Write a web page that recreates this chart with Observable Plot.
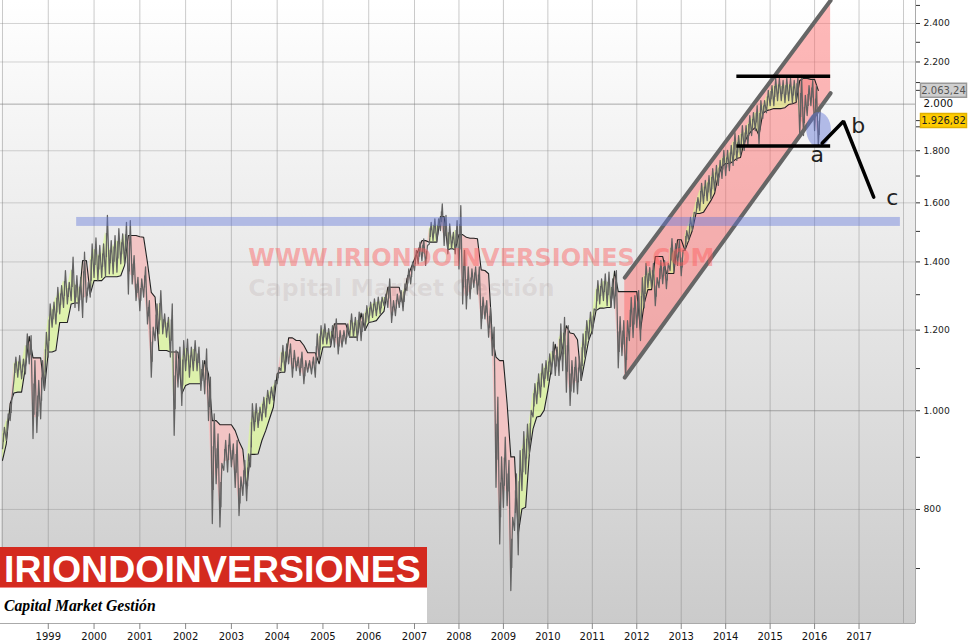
<!DOCTYPE html>
<html>
<head>
<meta charset="utf-8">
<script src="https://cdn.jsdelivr.net/npm/d3@7"></script>
<script src="https://cdn.jsdelivr.net/npm/@observablehq/plot@0.6"></script>
<style>
html,body{margin:0;padding:0;background:#fff;}
#wrap{position:relative;width:971px;height:642px;overflow:hidden;}
#wrap svg{display:block;}
#brand{position:absolute;left:0;top:547px;width:427px;height:41px;background:#d42a1f;border-bottom:1px solid #e88;box-sizing:border-box;color:#fff;font:bold 37.5px "Liberation Sans",sans-serif;line-height:45px;white-space:nowrap;padding-left:4px;}
#sub{position:absolute;left:0;top:588px;width:427px;height:35px;background:#fff;color:#000;font:italic bold 15.7px "Liberation Serif",serif;line-height:36px;white-space:nowrap;padding-left:4px;box-sizing:border-box;}
</style>
</head>
<body>
<div id="wrap"></div>
<script>
// Monthly readings from January 1998 on
const highs = [
963,993,1031,1129,1133,1124,1190,1185,1120,1071,
1120,1194,1273,1278,1322,1327,1373,1337,1415,1357,
1352,1431,1337,1458,1478,1453,1458,1555,1469,1486,
1509,1492,1531,1537,1420,1352,1347,1384,1283,1208,
1273,1312,1245,1235,1273,1146,1155,1172,1176,1155,
1172,1155,1120,1150,1079,993,949,888,935,949,
928,935,861,894,907,1016,1016,1008,1031,1047,
1055,1071,1103,1159,1163,1163,1146,1129,1142,1120,
1120,1129,1190,1212,1217,1204,1212,1231,1199,1199,
1217,1245,1235,1250,1245,1268,1278,1288,1293,1293,
1302,1347,1283,1302,1312,1332,1378,1399,1437,1464,
1475,1453,1531,1543,1543,1596,1555,1526,1497,1537,
1590,1437,1384,1378,1384,1384,1293,1283,1263,1208,
1031,901,942,894,786,867,914,954,970,1001,
1063,1087,1112,1120,1137,1168,1155,1217,1235,1212,
1120,1129,1129,1190,1226,1250,1259,1342,1347,1363,
1368,1347,1373,1237,1226,1226,1292,1297,1312,1351,
1395,1382,1395,1351,1404,1404,1395,1476,1459,1469,
1437,1503,1548,1566,1619,1672,1683,1702,1729,1741,
1761,1801,1801,1822,1875,1863,1905,1905,1949,1962,
1993,2016,2016,2063,2086,2120,2120,2110,2120,2120,
2110,2129,2134,2040,2086,2110,2086,1971];
const lows = [
918,935,978,1071,1079,1075,1087,1112,939,952,
982,1047,1129,1208,1217,1245,1263,1273,1283,1263,
1254,1235,1278,1293,1352,1342,1352,1357,1363,1363,
1368,1394,1394,1302,1332,1283,1254,1293,1217,1079,
1172,1190,1190,1181,1129,946,1055,1012,1095,1079,
1095,1095,1047,1039,978,775,848,769,874,871,
881,841,789,826,816,881,956,963,978,986,
1016,1024,1063,1095,1095,1112,1079,1095,1083,1063,
1091,1087,1079,1120,1163,1163,1159,1155,1137,1155,
1163,1181,1181,1172,1172,1199,1221,1235,1240,1245,
1268,1263,1221,1240,1263,1254,1312,1332,1373,1394,
1404,1389,1458,1469,1464,1503,1453,1426,1443,1426,
1378,1273,1259,1288,1322,1302,1204,1231,1181,1133,
841,740,804,807,666,763,722,835,867,907,
986,1016,1031,1055,1071,1087,1083,1083,1095,1043,
1012,1043,1039,1071,1129,1172,1190,1254,1273,1283,
1268,1263,1261,1102,1133,1078,1172,1180,1207,1172,
1262,1321,1321,1268,1321,1333,1318,1373,1373,1389,
1357,1437,1469,1503,1562,1573,1598,1608,1615,1645,
1664,1691,1702,1721,1741,1761,1781,1801,1822,1863,
1884,1830,1936,1962,1993,1993,2016,2016,2007,2016,
2007,2016,1863,1863,1949,1993,1884,1818];
const stops = [
894,928,1016,1041,1043,1043,1103,1183,1127,1127,
1127,1049,1142,1142,1146,1221,1221,1221,1273,1276,
1276,1404,1404,1302,1342,1342,1342,1354,1354,1354,
1354,1357,1389,1486,1486,1486,1482,1480,1398,1307,
1293,1146,1146,1146,1142,1142,1142,1039,1059,1063,
1063,1063,1063,1120,1087,978,978,969,969,969,
969,956,933,916,838,906,906,907,935,956,
982,1008,1087,1091,1091,1179,1179,1172,1172,1159,
1140,1140,1140,1112,1155,1155,1155,1217,1217,1217,
1217,1181,1181,1181,1247,1199,1221,1223,1226,1240,
1252,1322,1322,1322,1322,1268,1347,1378,1409,1437,
1469,1469,1464,1464,1464,1551,1551,1439,1443,1439,
1489,1489,1480,1477,1477,1475,1375,1373,1363,1181,
1129,1120,1120,1016,901,901,757,801,804,907,
960,986,988,1001,1047,1103,1162,1112,1155,1212,
1192,1190,1174,1071,1120,1172,1199,1254,1261,1261,
1263,1263,1371,1309,1309,1309,1309,1309,1309,1199,
1274,1315,1315,1417,1417,1417,1364,1364,1364,1472,
1472,1437,1469,1503,1562,1562,1566,1587,1608,1634,
1702,1737,1749,1749,1757,1769,1773,1834,1863,1884,
1897,1863,1958,1971,1975,1980,1980,1980,1984,1998,
2002,2007,2110,2120,2120,2115,2115,2063];

const yearLabels = [1999,2000,2001,2002,2003,2004,2005,2006,2007,2008,2009,2010,2011,2012,2013,2014,2015,2016,2017];
const gridYears = [1998,...yearLabels,2018];
const priceLabels = [800,1000,1200,1400,1600,1800,2200,2400];
const priceGrid = [800,1200,1400,1600,1800,2200,2400];
const strongGrid = [1000,2000];
const priceMinor = [700,900,1100,1300,1500,1700,1900,2100,2300,2500,1926.82,2063.24];

// Drawn annotations, in chart units
const channel = [
  {x:2011.73, low:1078, high:1351},
  {x:2016.36, low:2050, high:2528}
];
const supportBand = [{x1:1999.62, x2:2017.93, y1:1517, y2:1548}];
const topLine = [{x:2014.24,y:2130},{x:2016.35,y:2130}];
const bottomLine = [{x:2014.24,y:1819},{x:2016.35,y:1819}];
const wave = [{x:2016.17,y:1831},{x:2016.65,y:1924},{x:2017.33,y:1621}];
const waveLabels = [{x:2016.06,y:1781,t:"a"},{x:2016.98,y:1905,t:"b"},{x:2017.75,y:1616,t:"c"}];
const circled = [{x:2016.09,y:1889}];
const tags = [
  {x:2018.9,y:2063.24,t:"2.063,24",fill:"#cfcfcf",stroke:"#999",ink:"#555"},
  {x:2018.9,y:1926.82,t:"1.926,82",fill:"#ffcc00",stroke:"#e0b000",ink:"#222"}
];
const watermarkUrl = [{x:2003.37,y:1410,t:"WWW.IRIONDOINVERSIONES .COM"}];
const watermarkName = [{x:2003.37,y:1318,t:"Capital Market Gestión"}];

const rows = highs.map((h,i)=>{
  const l = lows[i], s = stops[i], mid = Math.sqrt(h*l);
  const kind = s < mid ? "up" : "down";
  return {t:1998+i/12,h,l,s,kind,edge:l*Math.pow(h/l,kind==="up"?0.72:0.28)};
});
const price = rows.flatMap(r=>[{x:r.t,y:r.l},{x:r.t+1/24,y:r.h}]);
// inner part of each monthly range, where the daily closes crowd together
const core = rows.map(r=>({x:r.t+1/48,y1:r.l*Math.pow(r.h/r.l,0.3),y2:r.l*Math.pow(r.h/r.l,0.7)}));
const fillRows = [];
let run = 0, prev = null;
for (const r of rows) {
  if (prev && r.kind !== prev) { fillRows.push({...r,run,kind:prev}); run++; }
  fillRows.push({...r,run});
  prev = r.kind;
}
const dotted = d3.format(",");
const fmt = d => dotted(d).replace(",",".");

const ellipse = {draw(c){
  const rx=12.3, ry=17.5, k=0.5523;
  c.moveTo(rx,0);
  c.bezierCurveTo(rx,k*ry,k*rx,ry,0,ry);
  c.bezierCurveTo(-k*rx,ry,-rx,k*ry,-rx,0);
  c.bezierCurveTo(-rx,-k*ry,-k*rx,-ry,0,-ry);
  c.bezierCurveTo(k*rx,-ry,rx,-k*ry,rx,0);
  c.closePath();
}};
const tagBox = {draw(c){ c.rect(-23,-7,46,14); }};

const chart = Plot.plot({
  width:971, height:642,
  marginLeft:0, marginRight:56, marginTop:0, marginBottom:19,
  style:{background:"transparent",fontFamily:"DejaVu Sans",overflow:"visible"},
  x:{type:"linear",domain:[1998,2007,2018],range:[2,414,903],axis:null},
  y:{type:"log",domain:[618.2,2528],axis:null},
  marks:[
    () => {
      const defs = d3.create("svg:defs");
      const g = defs.append("linearGradient").attr("id","bg").attr("x1",0).attr("y1",0).attr("x2",0).attr("y2",1);
      g.append("stop").attr("offset",0).attr("stop-color","#ffffff");
      g.append("stop").attr("offset",1).attr("stop-color","#cbcbcb");
      return defs.node();
    },
    Plot.frame({fill:"url(#bg)"}),
    Plot.ruleX(gridYears,{stroke:"#777",strokeOpacity:0.38}),
    Plot.ruleY(priceGrid,{stroke:"#777",strokeOpacity:0.3}),
    Plot.ruleY(strongGrid,{stroke:"#777",strokeOpacity:0.6}),
    Plot.areaY(fillRows.filter(d=>d.kind==="down"),{x:"t",y1:"s",y2:"edge",z:"run",fill:"#f2c4c4"}),
    Plot.areaY(channel,{x:"x",y1:"low",y2:"high",fill:"#ff6464",fillOpacity:0.45,clip:true}),
    Plot.areaY(fillRows.filter(d=>d.kind==="up"),{x:"t",y1:"s",y2:"edge",z:"run",fill:"rgb(220,249,146)",fillOpacity:0.68}),
    Plot.line(rows,{x:"t",y:"s",stroke:"#222",strokeWidth:1.1}),
    Plot.ruleX(core,{x:"x",y1:"y1",y2:"y2",stroke:"#626262",strokeWidth:1.2}),
    Plot.line(price,{x:"x",y:"y",stroke:"#626262",strokeWidth:1.25}),
    Plot.line(channel,{x:"x",y:"high",stroke:"#666",strokeWidth:4,clip:true}),
    Plot.line(channel,{x:"x",y:"low",stroke:"#666",strokeWidth:4,clip:true}),
    Plot.rect(supportBand,{x1:"x1",x2:"x2",y1:"y1",y2:"y2",fill:"#5f74d8",fillOpacity:0.42}),
    Plot.dot(circled,{x:"x",y:"y",symbol:ellipse,fill:"#5f74d8",fillOpacity:0.45,stroke:null}),
    Plot.line(topLine,{x:"x",y:"y",stroke:"#000",strokeWidth:3.5,strokeLinecap:"butt"}),
    Plot.line(bottomLine,{x:"x",y:"y",stroke:"#000",strokeWidth:3.5,strokeLinecap:"butt"}),
    Plot.line(wave,{x:"x",y:"y",stroke:"#000",strokeWidth:3.5,strokeLinejoin:"miter"}),
    Plot.text(waveLabels,{x:"x",y:"y",text:"t",fontSize:22,fill:"#222"}),
    Plot.text(watermarkUrl,{x:"x",y:"y",text:"t",textAnchor:"start",fontSize:24,fontWeight:"bold",fill:"#ff5a5a",fillOpacity:0.45}),
    Plot.text(watermarkName,{x:"x",y:"y",text:"t",textAnchor:"start",fontSize:23.7,fontWeight:"bold",fill:"#8a6a6a",fillOpacity:0.13}),
    Plot.ruleX([2018.27],{stroke:"#aaa"}),
    Plot.ruleY([618.2],{stroke:"#aaa"}),
    Plot.axisX({ticks:yearLabels,tickFormat:"d",tickSize:6,tickPadding:3,fontSize:10,label:null,anchor:"bottom",stroke:"#888",fill:"#111"}),
    Plot.axisY({ticks:priceMinor,anchor:"right",tickSize:4,text:null,label:null,stroke:"#333"}),
    Plot.axisY({ticks:priceLabels,anchor:"right",tickSize:4,tickPadding:4,tickFormat:fmt,fontSize:9.2,label:null,stroke:"#333",fill:"#222"}),
    Plot.axisY({ticks:[2000],anchor:"right",tickSize:0,tickPadding:8,tickFormat:fmt,fontSize:10.3,label:null,fill:"#111"}),
    Plot.dot(tags,{x:"x",y:"y",symbol:tagBox,fill:"fill",stroke:"stroke"}),
    Plot.text(tags,{x:"x",y:"y",text:"t",fontSize:10,fill:"ink"})
  ]
});
const wrap = document.getElementById("wrap");
wrap.appendChild(chart);
const brand = document.createElement("div"); brand.id="brand"; brand.textContent="IRIONDOINVERSIONES";
const sub = document.createElement("div"); sub.id="sub"; sub.textContent="Capital Market Gestión";
wrap.appendChild(brand); wrap.appendChild(sub);
</script>
</body>
</html>
